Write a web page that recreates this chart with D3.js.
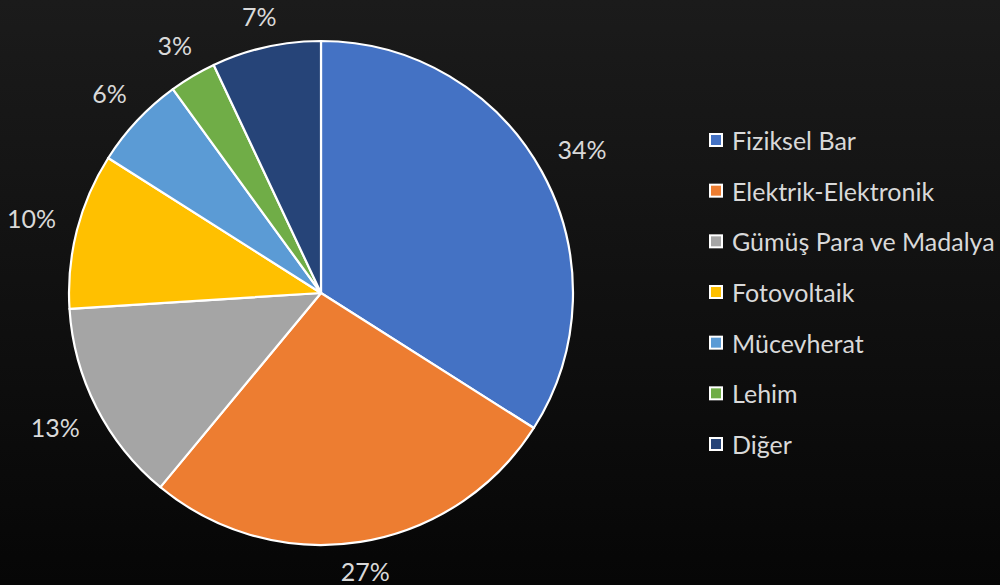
<!DOCTYPE html>
<html>
<head>
<meta charset="utf-8">
<script src="https://cdn.jsdelivr.net/npm/d3@7"></script>
<style>
  html, body { margin: 0; padding: 0; background: #000; }
  svg { display: block; }
  text { font-family: Lato, "Open Sans", sans-serif; }
</style>
</head>
<body>
<svg id="chart" width="1000" height="585"></svg>
<script>
// Gümüş talebinin kullanım alanlarına göre dağılımı (%)
const categories = ["Fiziksel Bar", "Elektrik-Elektronik", "Gümüş Para ve Madalya", "Fotovoltaik", "Mücevherat", "Lehim", "Diğer"];
const shares = [34, 27, 13, 10, 6, 3, 7];
const colors = ["#4472C4", "#ED7D31", "#A5A5A5", "#FFC000", "#5B9BD5", "#70AD47", "#264478"];

const W = 1000, H = 585;
const svg = d3.select("#chart");

// background
const defs = svg.append("defs");
const grad = defs.append("linearGradient").attr("id", "bg").attr("x1", 0).attr("y1", 0).attr("x2", 0).attr("y2", 1);
grad.append("stop").attr("offset", "0%").attr("stop-color", "#1b1b1b");
grad.append("stop").attr("offset", "100%").attr("stop-color", "#060606");
svg.append("rect").attr("width", W).attr("height", H).attr("fill", "url(#bg)");

const cx = 321, cy = 293, r = 252;
const color = d3.scaleOrdinal().domain(categories).range(colors);

const data = categories.map((c, i) => ({ name: c, value: shares[i] }));
const pie = d3.pie().value(d => d.value).sort(null);
const arcs = pie(data);
const arc = d3.arc().innerRadius(0).outerRadius(r);

const g = svg.append("g").attr("transform", `translate(${cx},${cy})`);
g.selectAll("path.slice")
  .data(arcs)
  .join("path")
  .attr("class", "slice")
  .attr("d", arc)
  .attr("fill", d => color(d.data.name))
  .attr("stroke", "#ffffff")
  .attr("stroke-width", 2.2)
  .attr("stroke-linejoin", "round");

// percentage labels just outside the rim
const fmt = d => d3.format(".0%")(d / 100);
const labels = g.selectAll("text.lbl")
  .data(arcs)
  .join("text")
  .attr("class", "lbl")
  .attr("text-anchor", "middle")
  .attr("dominant-baseline", "central")
  .attr("fill", "#d9d9d9")
  .attr("font-size", 25)
  .text(d => fmt(d.data.value));

labels.each(function(d) {
  const w = this.getComputedTextLength();
  const a = (d.startAngle + d.endAngle) / 2;
  const s = Math.sin(a), c = Math.cos(a);
  const dist = r + 22 + Math.abs(s) * w / 2 + Math.abs(c) * 5;
  d3.select(this).attr("x", s * dist).attr("y", -c * dist - 1);
});

// legend
const legendY = d3.scalePoint().domain(categories).range([140, 444]);
const lg = svg.append("g");
const items = lg.selectAll("g.item")
  .data(categories)
  .join("g")
  .attr("class", "item")
  .attr("transform", d => `translate(716,${legendY(d)})`);
items.append("rect")
  .attr("x", -6).attr("y", -6).attr("width", 12).attr("height", 12)
  .attr("fill", d => color(d))
  .attr("stroke", "#ffffff")
  .attr("stroke-width", 2);
items.append("text")
  .attr("x", 16)
  .attr("dominant-baseline", "central")
  .attr("fill", "#d9d9d9")
  .attr("font-size", 25)
  .text(d => d);
</script>
</body>
</html>
